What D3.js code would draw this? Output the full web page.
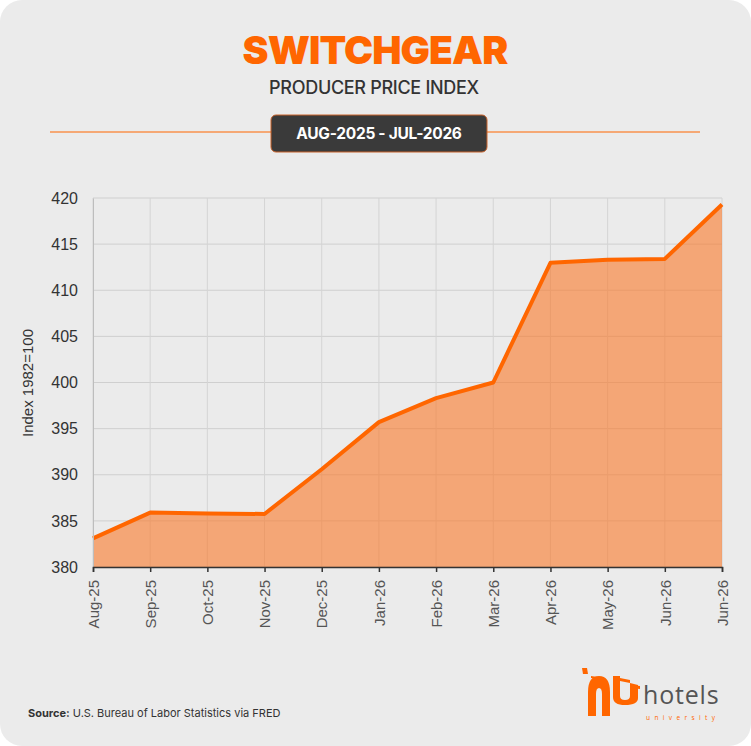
<!DOCTYPE html>
<html>
<head>
<meta charset="utf-8">
<script src="https://cdn.jsdelivr.net/npm/d3@7"></script>
<style>
  html, body { margin: 0; padding: 0; background: #ffffff; }
  svg { display: block; }
</style>
</head>
<body>
<svg id="chart" width="751" height="746"></svg>
<script>
const months = ["Aug-25","Sep-25","Oct-25","Nov-25","Dec-25","Jan-26","Feb-26","Mar-26","Apr-26","May-26","Jun-26","Jun-26"];
const values = [383.1, 385.9, 385.8, 385.75, 390.6, 395.7, 398.3, 400.0, 412.97, 413.3, 413.4, 419.3];
const yTicks = [380, 385, 390, 395, 400, 405, 410, 415, 420];
const titleText = "SWITCHGEAR";
const subtitleText = "PRODUCER PRICE INDEX";
const rangeText = "AUG-2025 - JUL-2026";
const yLabel = "Index 1982=100";

const svg = d3.select("#chart");
const W = 751, H = 746;
const orange = "#ff6600";

// card background
svg.append("rect").attr("x", 0).attr("y", 0).attr("width", W).attr("height", H)
  .attr("rx", 22).attr("fill", "#ebebeb");

// title
svg.append("text").attr("x", 375).attr("y", 64).attr("text-anchor", "middle")
  .attr("font-family", "Inter, 'Open Sans', sans-serif").attr("font-weight", 900)
  .attr("font-size", 39).attr("letter-spacing", -0.9).attr("fill", orange).text(titleText);

svg.append("text").attr("x", 374).attr("y", 94).attr("text-anchor", "middle")
  .attr("font-family", "Inter, 'Open Sans', sans-serif").attr("font-weight", 500)
  .attr("font-size", 18).attr("letter-spacing", -0.3).attr("fill", "#333").text(subtitleText);

// divider line and range box
svg.append("line").attr("x1", 50).attr("x2", 700).attr("y1", 132).attr("y2", 132)
  .attr("stroke", orange).attr("stroke-width", 1.2);
svg.append("rect").attr("x", 271).attr("y", 115).attr("width", 216).attr("height", 37)
  .attr("rx", 5).attr("fill", "#3a3a3a").attr("stroke", "#c8622a").attr("stroke-width", 1);
svg.append("text").attr("x", 379).attr("y", 139).attr("text-anchor", "middle")
  .attr("font-family", "Inter, 'Open Sans', sans-serif").attr("font-weight", 700)
  .attr("font-size", 15.5).attr("letter-spacing", -0.3).attr("fill", "#ffffff").text(rangeText);

// scales
const x = d3.scaleLinear().domain([0, months.length - 1]).range([93, 722]);
const y = d3.scaleLinear().domain([380, 420]).range([567, 198]);

// grid
const grid = svg.append("g");
grid.selectAll("line.h").data(yTicks).join("line")
  .attr("x1", 93).attr("x2", 722).attr("y1", d => y(d)).attr("y2", d => y(d))
  .attr("stroke", "#cfcfcf").attr("stroke-width", 1);
grid.selectAll("line.v").data(months.map((m, i) => i)).join("line")
  .attr("x1", d => x(d)).attr("x2", d => x(d)).attr("y1", 198).attr("y2", 567)
  .attr("stroke", "#d4d4d4").attr("stroke-width", 1);

// area + line
const data = values.map((v, i) => ({i, v}));
svg.append("path").datum(data)
  .attr("d", d3.area().x(d => x(d.i)).y0(y(380)).y1(d => y(d.v)))
  .attr("fill", "rgba(250,120,40,0.6)");
svg.append("path").datum(data)
  .attr("d", d3.line().x(d => x(d.i)).y(d => y(d.v)))
  .attr("fill", "none").attr("stroke", orange).attr("stroke-width", 4)
  .attr("stroke-linejoin", "round");

// y axis
const yAxis = svg.append("g").attr("transform", "translate(93,0)")
  .call(d3.axisLeft(y).tickValues(yTicks).tickSize(0).tickPadding(15).tickFormat(d3.format("d")));
yAxis.select(".domain").attr("stroke", "#bdbdbd");
yAxis.selectAll("text").attr("font-family", "'Liberation Sans', Arial, sans-serif")
  .attr("font-size", 16).attr("fill", "#333");

svg.append("text").attr("transform", "translate(33,383) rotate(-90)").attr("text-anchor", "middle")
  .attr("font-family", "'Liberation Sans', Arial, sans-serif").attr("font-size", 15)
  .attr("fill", "#333").text(yLabel);

// x axis
const xAxis = svg.append("g").attr("transform", "translate(0,567)")
  .call(d3.axisBottom(x).tickValues(months.map((m, i) => i)).tickSize(5).tickPadding(10)
    .tickFormat(i => months[i]));
xAxis.select(".domain").attr("stroke", "#333").attr("stroke-width", 1.5);
xAxis.selectAll(".tick line").attr("stroke", "#333").attr("stroke-width", 1.5);
xAxis.selectAll("text").attr("font-family", "'Liberation Sans', Arial, sans-serif")
  .attr("font-size", 15).attr("fill", "#555")
  .attr("transform", "rotate(-90)").attr("text-anchor", "end")
  .attr("x", -13).attr("y", 0).attr("dy", "0.35em");

// source
const src = svg.append("text").attr("x", 28).attr("y", 717)
  .attr("font-family", "Inter, Roboto, sans-serif").attr("font-size", 11).attr("fill", "#333");
src.append("tspan").attr("font-weight", 700).text("Source:");
src.append("tspan").text(" U.S. Bureau of Labor Statistics via FRED");

// logo
const logo = svg.append("g").attr("fill", orange);
logo.append("path").attr("d", "M582,668 L587,668 L588,674 L583,674 Z");
logo.append("path").attr("d", "M588,716 L588,692 Q588,676 599,676 Q610,676 610,692 L610,716 L602,716 L602,694 Q602,688 599,688 Q596,688 596,694 L596,716 Z");
logo.append("path").attr("d", "M591,676 L604,678 L604,680 L591,678 Z");
logo.append("path").attr("d", "M613,676 L620,676 L620,696 Q620,700 625,700 Q630,700 630,696 L630,683 L638,685 L638,698 Q638,705 625,705 Q613,705 613,697 Z");
logo.append("path").attr("d", "M620,678 L630,680 L630,683 L620,681 Z");
logo.append("path").attr("d", "M631,685 L640,686 L640,689 L631,688 Z");
svg.append("text").attr("x", 643).attr("y", 704)
  .attr("font-family", "'Open Sans', 'Noto Sans', sans-serif").attr("font-weight", 400)
  .attr("font-size", 25).attr("letter-spacing", 0.8).attr("fill", "#555").text("hotels");
svg.append("text").attr("x", 646).attr("y", 720)
  .attr("font-family", "'Open Sans', sans-serif").attr("font-size", 6.5)
  .attr("letter-spacing", 4.4).attr("fill", orange).text("university");
</script>
</body>
</html>
